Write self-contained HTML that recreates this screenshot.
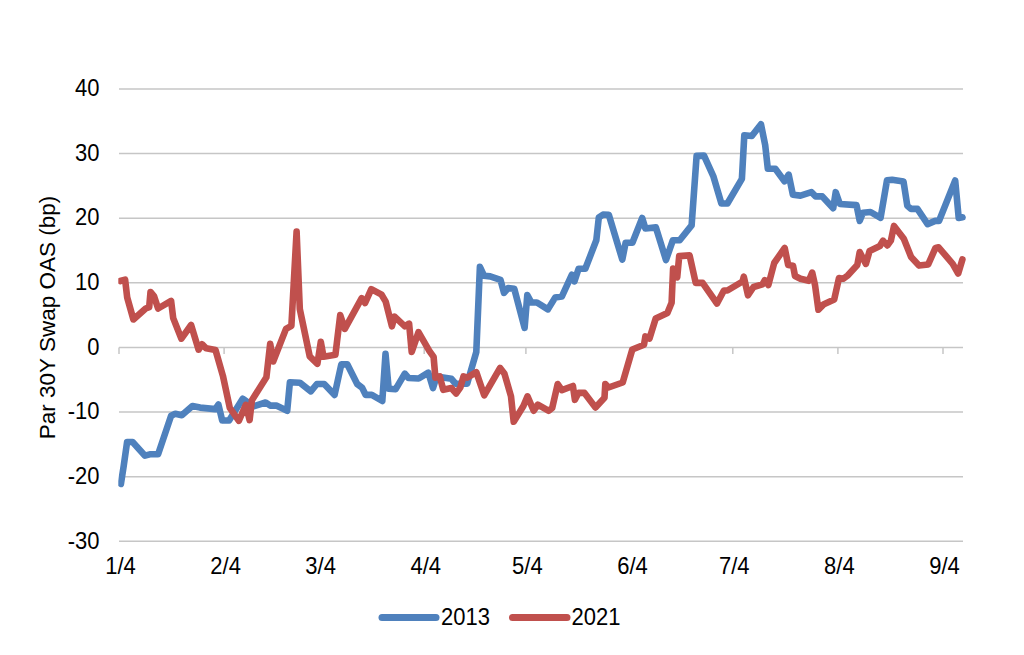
<!DOCTYPE html>
<html><head><meta charset="utf-8"><style>
html,body{margin:0;padding:0;background:#fff;width:1024px;height:655px;overflow:hidden}
svg{display:block}
text{font-family:"Liberation Sans",sans-serif;fill:#000}
</style></head><body>
<svg width="1024" height="655" viewBox="0 0 1024 655">
<rect width="1024" height="655" fill="#fff"/>
<g stroke="#c6c6c6" stroke-width="1.5" fill="none"><line x1="119" y1="541.3" x2="963" y2="541.3"/><line x1="119" y1="476.7" x2="963" y2="476.7"/><line x1="119" y1="412.0" x2="963" y2="412.0"/><line x1="119" y1="347.4" x2="963" y2="347.4"/><line x1="119" y1="282.8" x2="963" y2="282.8"/><line x1="119" y1="218.2" x2="963" y2="218.2"/><line x1="119" y1="153.5" x2="963" y2="153.5"/><line x1="119" y1="88.9" x2="963" y2="88.9"/><line x1="119.0" y1="347.4" x2="119.0" y2="353.9"/><line x1="224.1" y1="347.4" x2="224.1" y2="353.9"/><line x1="319.1" y1="347.4" x2="319.1" y2="353.9"/><line x1="424.2" y1="347.4" x2="424.2" y2="353.9"/><line x1="525.9" y1="347.4" x2="525.9" y2="353.9"/><line x1="631.0" y1="347.4" x2="631.0" y2="353.9"/><line x1="732.8" y1="347.4" x2="732.8" y2="353.9"/><line x1="837.9" y1="347.4" x2="837.9" y2="353.9"/><line x1="943.0" y1="347.4" x2="943.0" y2="353.9"/></g>
<g font-size="22"><text transform="translate(99.5 548.5) scale(1 1.08)" text-anchor="end">-30</text><text transform="translate(99.5 483.9) scale(1 1.08)" text-anchor="end">-20</text><text transform="translate(99.5 419.2) scale(1 1.08)" text-anchor="end">-10</text><text transform="translate(99.5 354.6) scale(1 1.08)" text-anchor="end">0</text><text transform="translate(99.5 290.0) scale(1 1.08)" text-anchor="end">10</text><text transform="translate(99.5 225.4) scale(1 1.08)" text-anchor="end">20</text><text transform="translate(99.5 160.7) scale(1 1.08)" text-anchor="end">30</text><text transform="translate(99.5 96.1) scale(1 1.08)" text-anchor="end">40</text><text transform="translate(120.5 574) scale(1 1.08)" text-anchor="middle">1/4</text><text transform="translate(225.6 574) scale(1 1.08)" text-anchor="middle">2/4</text><text transform="translate(320.6 574) scale(1 1.08)" text-anchor="middle">3/4</text><text transform="translate(425.7 574) scale(1 1.08)" text-anchor="middle">4/4</text><text transform="translate(527.4 574) scale(1 1.08)" text-anchor="middle">5/4</text><text transform="translate(632.5 574) scale(1 1.08)" text-anchor="middle">6/4</text><text transform="translate(734.3 574) scale(1 1.08)" text-anchor="middle">7/4</text><text transform="translate(839.4 574) scale(1 1.08)" text-anchor="middle">8/4</text><text transform="translate(944.5 574) scale(1 1.08)" text-anchor="middle">9/4</text></g>
<text transform="translate(54.5 317.5) rotate(-90)" text-anchor="middle" font-size="22.5">Par 30Y Swap OAS (bp)</text>
<defs><clipPath id="pa"><rect x="118.3" y="60" width="860" height="500"/></clipPath></defs>
<g clip-path="url(#pa)" fill="none" stroke-width="6.6" stroke-linejoin="round" stroke-linecap="round">
<path stroke="#4f81bd" d="M120.9 483.9 L123.7 466.0 L127.1 442.0 L132.6 442.0 L145.0 455.7 L149.8 454.3 L158.1 454.3 L171.1 415.8 L175.3 413.8 L181.8 415.2 L192.4 406.0 L200.1 407.6 L215.3 409.1 L218.4 404.5 L222.2 420.5 L229.1 420.5 L242.7 398.7 L253.4 406.3 L265.6 402.5 L270.2 405.6 L276.3 405.6 L287.2 410.8 L289.9 382.3 L299.8 382.7 L310.8 391.3 L316.9 384.0 L324.2 384.0 L334.6 394.9 L341.3 364.4 L347.4 364.4 L357.2 384.0 L362.0 387.6 L365.7 394.9 L371.8 394.9 L382.3 401.0 L385.5 353.9 L388.7 388.7 L395.7 389.2 L404.8 373.7 L408.5 378.0 L418.7 378.5 L428.3 372.6 L433.0 388.0 L436.6 376.4 L451.3 378.8 L455.6 383.7 L467.2 383.7 L476.3 352.0 L479.9 266.8 L484.0 275.7 L490.2 276.4 L500.5 279.8 L504.0 292.9 L508.1 288.1 L514.3 288.8 L524.6 327.9 L527.3 295.0 L531.4 302.5 L536.9 302.5 L547.9 309.4 L555.1 297.6 L561.8 296.6 L571.9 274.7 L574.4 281.4 L578.6 268.8 L585.3 268.8 L596.3 240.3 L598.8 217.5 L603.0 214.6 L608.8 214.8 L622.3 259.6 L625.6 242.8 L632.4 242.8 L642.2 218.0 L645.4 228.5 L655.9 227.4 L666.0 260.0 L672.8 240.3 L679.7 240.3 L691.6 225.4 L696.6 155.9 L704.0 155.6 L713.5 176.7 L721.4 203.5 L727.4 203.5 L741.9 178.8 L744.3 135.2 L751.8 136.0 L761.0 124.3 L765.2 145.2 L767.8 168.7 L775.3 168.7 L784.5 181.3 L788.7 174.6 L792.9 194.8 L800.5 195.6 L811.4 192.2 L815.6 196.4 L822.3 196.4 L833.2 208.2 L835.7 192.2 L839.9 204.0 L856.5 205.1 L859.7 220.9 L862.9 212.7 L870.5 212.0 L880.6 217.8 L887.0 180.3 L892.1 179.7 L903.5 181.6 L907.3 205.7 L911.1 208.9 L917.4 208.9 L927.6 224.1 L935.2 220.9 L939.0 220.9 L955.2 180.5 L958.7 218.0 L962.5 217.3"/>
<path stroke="#c0504d" d="M120.3 281.0 L125.1 279.6 L127.2 297.5 L133.4 319.5 L145.7 308.5 L149.2 307.1 L150.5 292.0 L154.0 296.1 L158.1 308.5 L171.1 300.9 L173.2 318.1 L181.4 338.7 L191.1 325.0 L198.6 349.7 L202.0 344.2 L206.2 348.3 L215.5 350.0 L222.9 375.8 L229.8 407.9 L238.9 420.8 L245.8 404.8 L249.6 420.1 L251.9 400.2 L266.4 377.3 L270.2 343.7 L273.2 361.5 L286.0 328.9 L291.4 325.8 L296.6 231.5 L299.8 309.0 L309.7 356.3 L317.4 363.8 L320.8 341.8 L323.5 356.7 L335.4 354.8 L340.2 315.1 L344.8 328.9 L361.7 298.2 L365.1 303.0 L371.3 289.2 L381.6 294.7 L385.7 301.6 L391.9 326.3 L394.6 316.7 L404.9 326.3 L409.1 323.6 L411.7 351.9 L418.5 332.1 L429.3 350.8 L433.6 356.9 L435.4 377.6 L439.7 376.4 L443.3 389.8 L451.3 388.0 L456.2 393.5 L460.4 387.4 L463.5 376.4 L467.2 377.6 L476.3 372.1 L484.2 395.3 L500.1 367.9 L504.5 373.8 L511.0 396.4 L513.7 421.8 L523.4 406.0 L527.5 396.4 L533.7 410.8 L537.8 404.6 L548.8 410.8 L552.2 408.0 L557.7 384.0 L561.9 390.2 L572.9 386.0 L574.9 399.8 L578.4 392.9 L584.5 392.9 L595.5 407.4 L604.5 397.7 L605.3 384.0 L608.5 387.5 L622.7 382.5 L632.3 349.5 L644.0 344.7 L645.4 336.4 L649.5 338.5 L655.7 318.6 L667.4 313.1 L671.6 302.8 L673.1 268.5 L677.2 277.4 L679.2 256.1 L689.6 255.4 L695.7 282.9 L702.6 282.9 L717.0 303.5 L723.9 290.5 L727.4 290.5 L742.5 281.5 L743.8 276.7 L748.0 295.3 L753.5 287.0 L762.4 284.3 L764.8 280.1 L768.4 285.0 L774.2 263.0 L784.7 247.9 L788.2 265.0 L793.0 265.7 L795.0 276.0 L800.5 278.8 L808.8 280.8 L812.2 272.6 L815.0 284.9 L818.4 309.7 L823.9 304.2 L834.2 299.4 L839.0 278.1 L843.1 278.8 L847.9 275.3 L857.3 265.0 L859.7 252.1 L865.9 263.9 L869.6 250.9 L879.9 246.0 L883.0 240.6 L887.3 245.4 L890.9 240.6 L894.0 225.9 L903.8 238.7 L911.1 257.0 L919.0 265.6 L928.2 264.4 L935.5 247.9 L938.6 247.3 L952.7 263.8 L958.2 273.5 L962.4 259.5"/>
</g>
<g stroke-width="7" stroke-linecap="round">
<line x1="382" y1="617.5" x2="436" y2="617.5" stroke="#4f81bd"/>
<line x1="512.5" y1="617.5" x2="567" y2="617.5" stroke="#c0504d"/>
</g>
<g font-size="22">
<text transform="translate(441 625) scale(1 1.08)">2013</text>
<text transform="translate(571.5 625) scale(1 1.08)">2021</text>
</g>
</svg>
</body></html>
